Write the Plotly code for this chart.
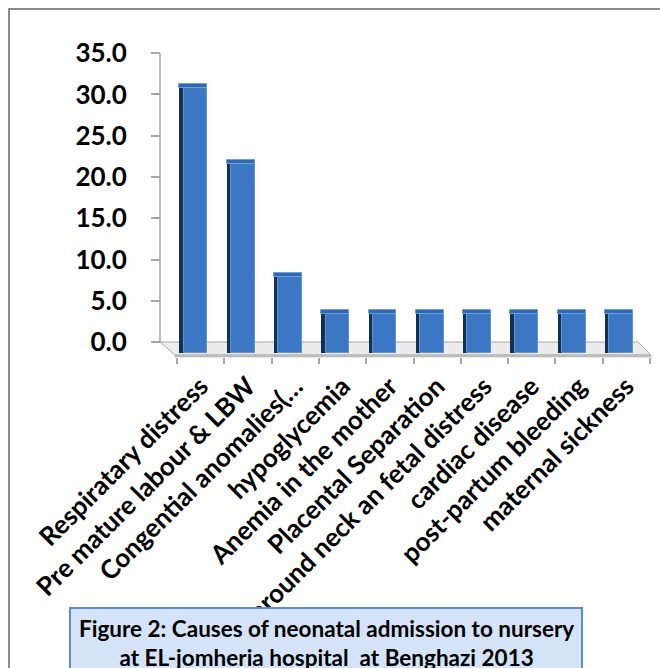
import plotly.graph_objects as go

# ---- data ----
categories = [
    "Respiratary distress",
    "Pre mature labour & LBW",
    "Congential anomalies(…",
    "hypoglycemia",
    "Anemia in the mother",
    "Placental Separation",
    "Cord around neck an fetal distress",
    "cardiac disease",
    "post-partum bleeding",
    "maternal sickness",
]
values = [30.8, 21.6, 7.9, 3.4, 3.4, 3.4, 3.4, 3.4, 3.4, 3.4]
y_ticks = [0, 5, 10, 15, 20, 25, 30, 35]
y_ticktext = ["0.0", "5.0", "10.0", "15.0", "20.0", "25.0", "30.0", "35.0"]
title_lines = ["Figure 2: Causes of neonatal admission to nursery",
               "at EL-jomheria hospital  at Benghazi 2013"]

# ---- layout geometry (pixels) ----
W, H = 660, 668
ML, MR, MT, MB = 160, 10, 49, 311
PW = W - ML - MR
PH = H - MT - MB
YMIN, YMAX = -1.8, 35.5
FLOOR = 1.33  # perspective depth of the floor, in axis units

def px_x(px):
    return (px - ML) / PW

def px_y(py):
    return (H - MB - py) / PH

FONT = "Lato"

fig = go.Figure()

# dark left side of each column
fig.add_trace(go.Bar(
    x=categories, y=[v + FLOOR for v in values], base=[-FLOOR] * len(values),
    offset=-0.45, width=0.14,
    marker=dict(color="#14304f", line=dict(width=0)),
    hoverinfo="skip", showlegend=False,
))
# front face
fig.add_trace(go.Bar(
    x=categories, y=[v + FLOOR for v in values], base=[-FLOOR] * len(values),
    offset=-0.36, width=0.50,
    customdata=values,
    hovertemplate="%{x}: %{customdata:.1f}<extra></extra>",
    marker=dict(color="#3b77c3", line=dict(color="#5c95da", width=1)),
    showlegend=False,
))
# top face
fig.add_trace(go.Bar(
    x=categories, y=[0.5] * len(values), base=values,
    offset=-0.45, width=0.59,
    marker=dict(color="#3169b0", line=dict(color="#6c9fdc", width=1)),
    hoverinfo="skip", showlegend=False,
))

shapes = []
# outer chart border
shapes.append(dict(type="rect", xref="paper", yref="paper",
                   x0=px_x(9), x1=px_x(720), y0=px_y(720), y1=px_y(9),
                   line=dict(color="#8c8c8c", width=2), fillcolor="rgba(0,0,0,0)",
                   layer="below"))
# floor
shapes.append(dict(type="path", xref="paper", yref="paper",
                   path=(f"M {px_x(160)},{px_y(342)} L {px_x(638)},{px_y(342)} "
                         f"L {px_x(651)},{px_y(355)} L {px_x(175)},{px_y(355)} Z"),
                   fillcolor="#ececec", line=dict(color="#a6a6a6", width=1),
                   layer="below"))
shapes.append(dict(type="path", xref="paper", yref="paper",
                   path=(f"M {px_x(175)},{px_y(355)} L {px_x(651)},{px_y(355)} "
                         f"L {px_x(651)},{px_y(357)} L {px_x(175)},{px_y(357)} Z"),
                   fillcolor="#c4c4c4", line=dict(color="#a6a6a6", width=0.5),
                   layer="below"))
# value axis line
shapes.append(dict(type="line", xref="paper", yref="y",
                   x0=0, x1=0, y0=0, y1=35,
                   line=dict(color="#a6a6a6", width=1.5)))
# caption box
shapes.append(dict(type="rect", xref="paper", yref="paper",
                   x0=px_x(70), x1=px_x(582), y0=px_y(720), y1=px_y(608),
                   fillcolor="#d4e3f7", line=dict(color="#5f8cca", width=2),
                   layer="above"))

fig.update_layout(
    width=W, height=H,
    margin=dict(l=ML, r=MR, t=MT, b=MB),
    paper_bgcolor="white", plot_bgcolor="rgba(0,0,0,0)",
    barmode="overlay",
    bargap=0,
    shapes=shapes,
    font=dict(family=FONT, color="black"),
    xaxis=dict(
        domain=[px_x(177), 1], range=[-0.5, 9.5],
        type="category",
        showline=False, showgrid=False, zeroline=False,
        ticks="outside", tickson="boundaries", ticklen=6,
        tickcolor="#a6a6a6", tickwidth=1.5,
        tickangle=-45,
        ticklabelstandoff=8,
        tickfont=dict(family=FONT, size=26, weight="bold", color="black"),
        automargin=False,
    ),
    yaxis=dict(
        anchor="free", position=0,
        range=[YMIN, YMAX],
        tickvals=y_ticks, ticktext=y_ticktext,
        showline=False, showgrid=False, zeroline=False,
        ticks="outside", ticklen=9, tickcolor="#a6a6a6", tickwidth=1.5,
        ticklabelstandoff=19,
        tickfont=dict(family=FONT, size=26, weight="bold", color="black"),
        automargin=False,
    ),
    annotations=[dict(
        xref="paper", yref="paper",
        x=px_x(326), y=px_y(643),
        text="<br>".join(title_lines),
        showarrow=False, xanchor="center", yanchor="middle",
        font=dict(family=FONT, size=22.5, weight="bold", color="black"),
    )],
)

fig.write_html("out.html")
